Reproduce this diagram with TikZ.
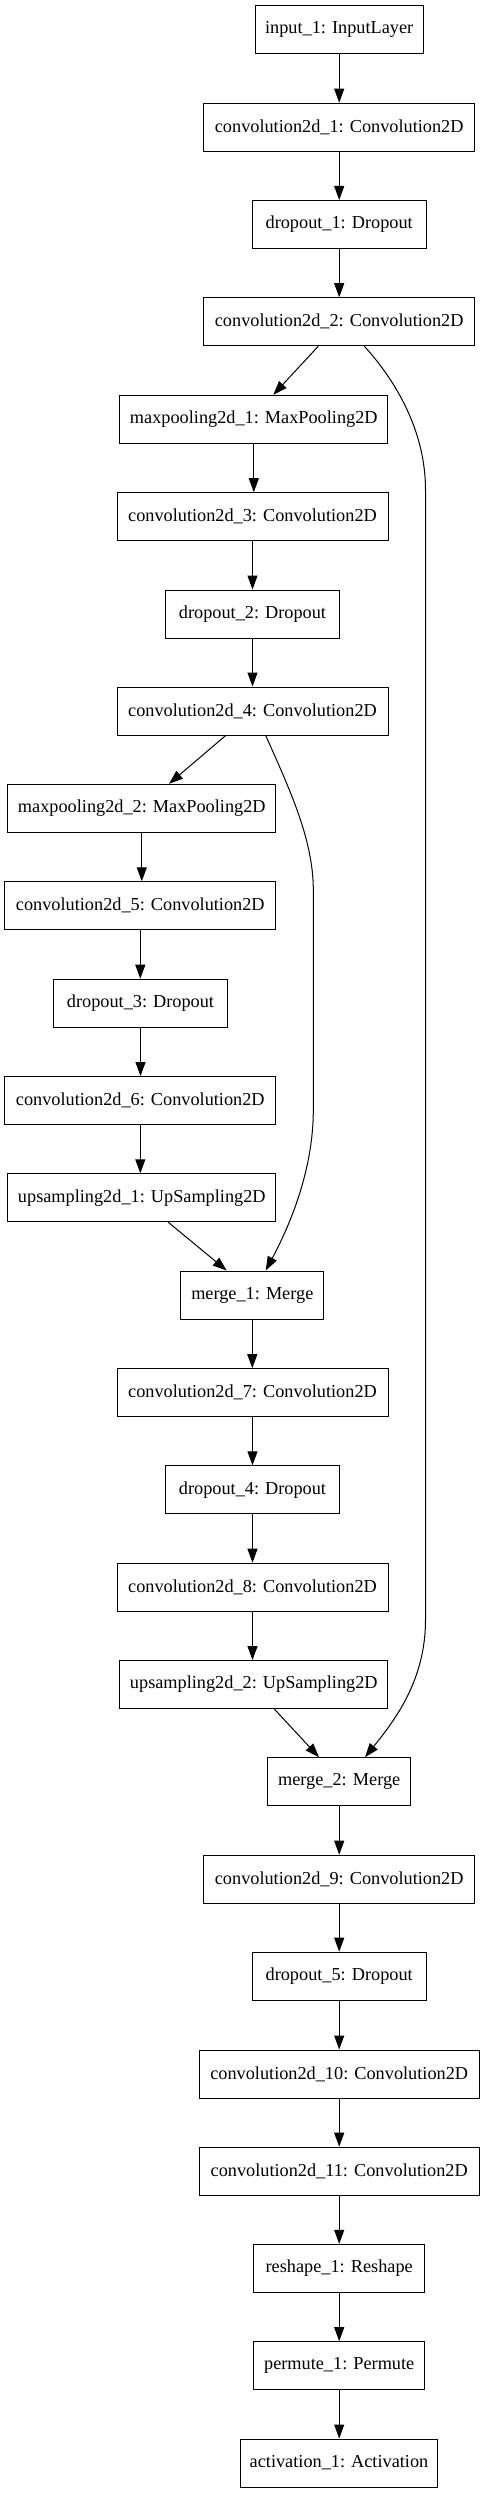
\documentclass[tikz,border=0pt]{standalone}
\usepackage{fontspec}
\setmainfont{Liberation Serif}
\usetikzlibrary{arrows.meta,calc}
\begin{document}
\begin{tikzpicture}[x=0.75pt,y=-0.75pt,
  layer/.style={draw=black,line width=0.75pt,fill=white,minimum height=36pt,inner sep=0pt,
    font=\fontsize{13.7}{16}\selectfont},
  arr/.style={line width=0.75pt,-{Triangle[length=10.5pt,width=7.5pt]}}]
\useasboundingbox[fill=white] (0,0) rectangle (485,2493);
\newcommand{\lay}[5]{\node[layer,minimum width=#4*0.75pt] (#1) at (#2,#3) {#5};}
\lay{in}{339.2}{29.7}{168.3}{input\_1: InputLayer}
\lay{c1}{339.2}{127.2}{271}{convolution2d\_1: Convolution2D}
\lay{d1}{339.2}{224.5}{173.7}{dropout\_1: Dropout}
\lay{c2}{339.2}{321.7}{271}{convolution2d\_2: Convolution2D}
\lay{mp1}{253.8}{419.3}{268.3}{maxpooling2d\_1: MaxPooling2D}
\lay{c3}{252.5}{516.7}{271}{convolution2d\_3: Convolution2D}
\lay{d2}{252.5}{614}{173.6}{dropout\_2: Dropout}
\lay{c4}{252.5}{711}{271}{convolution2d\_4: Convolution2D}
\lay{mp2}{141.8}{808.3}{268.3}{maxpooling2d\_2: MaxPooling2D}
\lay{c5}{140.3}{905.8}{271.3}{convolution2d\_5: Convolution2D}
\lay{d3}{140.5}{1003.2}{173.6}{dropout\_3: Dropout}
\lay{c6}{140.3}{1100.5}{271.3}{convolution2d\_6: Convolution2D}
\lay{up1}{141.8}{1197.8}{268.3}{upsampling2d\_1: UpSampling2D}
\lay{m1}{252.3}{1295}{142.7}{merge\_1: Merge}
\lay{c7}{252.5}{1392.7}{271}{convolution2d\_7: Convolution2D}
\lay{d4}{252.5}{1489.8}{173.6}{dropout\_4: Dropout}
\lay{c8}{252.5}{1587.2}{271}{convolution2d\_8: Convolution2D}
\lay{up2}{253.8}{1684.5}{268.3}{upsampling2d\_2: UpSampling2D}
\lay{m2}{339.2}{1781.7}{143}{merge\_2: Merge}
\lay{c9}{339.2}{1879.2}{271}{convolution2d\_9: Convolution2D}
\lay{d5}{339.2}{1976.2}{173.7}{dropout\_5: Dropout}
\lay{c10}{339.2}{2074}{280.3}{convolution2d\_10: Convolution2D}
\lay{c11}{339.2}{2171.2}{280.3}{convolution2d\_11: Convolution2D}
\lay{rs}{339.2}{2268.3}{171}{reshape\_1: Reshape}
\lay{pm}{339.2}{2365.7}{171}{permute\_1: Permute}
\lay{act}{339}{2463}{197.4}{activation\_1: Activation}
% vertical edges
\foreach \a/\b in {in/c1,c1/d1,d1/c2,mp1/c3,c3/d2,d2/c4,mp2/c5,c5/d3,d3/c6,c6/up1,
  m1/c7,c7/d4,d4/c8,c8/up2,m2/c9,c9/d5,d5/c10,c10/c11,c11/rs,rs/pm,pm/act}
  \draw[arr] (\a.south) -- (\a.south |- \b.north);
% diagonal edges
\draw[arr] ($(c2.south)+(-20.9,0)$) -- ($(mp1.north)+(19.5,0)$);
\draw[arr] ($(c4.south)+(-26.8,0)$) -- ($(mp2.north)+(27.2,0)$);
\draw[arr] ($(up1.south)+(26.5,0)$) -- ($(m1.north)+(-25.6,0)$);
\draw[arr] ($(up2.south)+(20.5,0)$) -- ($(m2.north)+(-20.2,0)$);
% skip connections
\draw[arr] ($(c2.south)+(25.1,0)$) .. controls (395,380) and (425.5,430) .. (425.5,490)
  -- (425.5,1620) .. controls (425.5,1680) and (395,1720) .. ($(m2.north)+(25.8,0)$);
\draw[arr] ($(c4.south)+(13.2,0)$) .. controls (290,790) and (313.3,840) .. (313.3,890)
  -- (313.3,1110) .. controls (313.3,1170) and (290,1225) .. ($(m1.north)+(13.4,0)$);
\end{tikzpicture}
\end{document}
